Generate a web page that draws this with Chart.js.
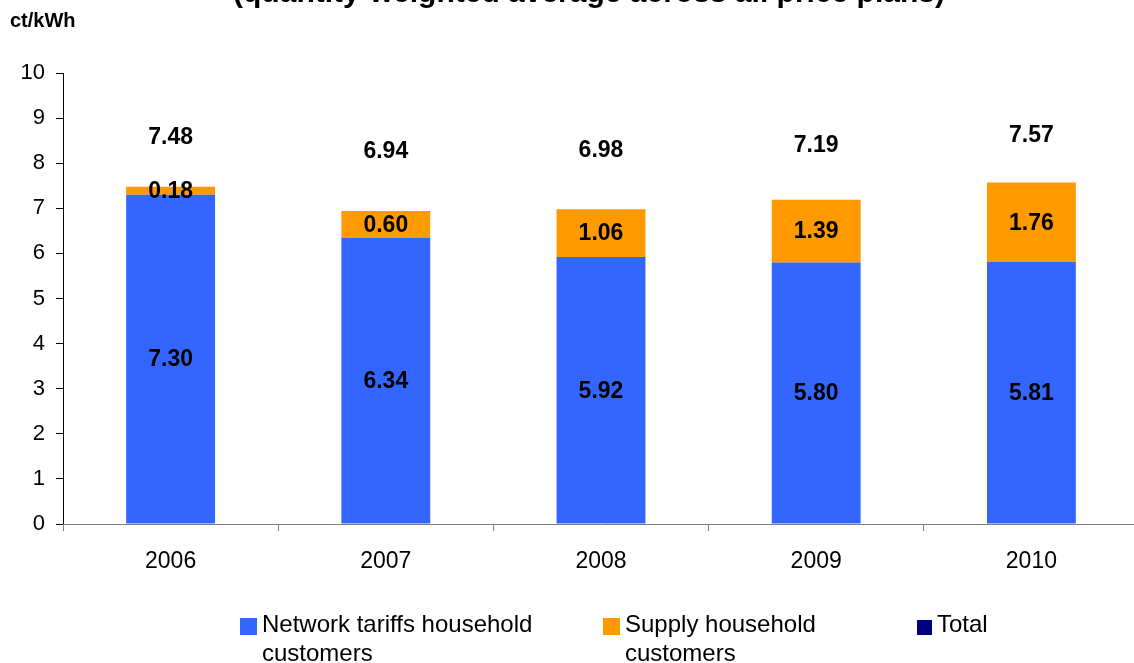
<!DOCTYPE html>
<html>
<head>
<meta charset="utf-8">
<script src="https://cdn.jsdelivr.net/npm/chart.js@4.4.1/dist/chart.umd.min.js"></script>
<style>
  html, body { margin: 0; padding: 0; background: #fff; overflow: hidden; width: 1134px; height: 663px; }
  #wrap { position: absolute; left: 0; top: 0; width: 1150px; height: 663px; }
  #legend { position: absolute; left: 240px; top: 609px; display: flex; font-family: "Liberation Sans", Arial, sans-serif; font-size: 24px; line-height: 29px; color: #000; }
  .item { display: flex; align-items: flex-start; }
  .box { width: 17px; height: 17px; margin-top: 9px; margin-right: 5px; flex: none; }
</style>
</head>
<body>
<div id="wrap"><canvas id="c" width="1150" height="663"></canvas></div>
<div id="legend"></div>
<script>
const categories = ["2006", "2007", "2008", "2009", "2010"];
const networkTariffs = [7.30, 6.34, 5.92, 5.80, 5.81];
const supply = [0.18, 0.60, 1.06, 1.39, 1.76];
const totals = [7.48, 6.94, 6.98, 7.19, 7.57];
const seriesNames = ["Network tariffs household customers", "Supply household customers", "Total"];
const legendLines = [["Network tariffs household", "customers"], ["Supply household", "customers"], ["Total"]];
const colors = ["#3366FF", "#FF9900", "#000080"];
const yTicks = [0, 1, 2, 3, 4, 5, 6, 7, 8, 9, 10];
const titleText = "(quantity-weighted average across all price plans)";
const unitText = "ct/kWh";

const FONT = "'Liberation Sans', Arial, sans-serif";

const labelPlugin = {
  id: 'valueLabels',
  afterDatasetsDraw(chart) {
    const ctx = chart.ctx;
    ctx.save();
    ctx.font = "bold 23px " + FONT;
    ctx.fillStyle = "#000";
    ctx.textAlign = "center";
    ctx.textBaseline = "middle";
    chart.data.datasets.forEach((ds, di) => {
      const meta = chart.getDatasetMeta(di);
      meta.data.forEach((el, i) => {
        const v = ds.data[i];
        let y;
        if (meta.type === 'bar') {
          y = (el.y + el.base) / 2;
        } else {
          y = el.y;
        }
        ctx.fillText(v.toFixed(2), el.x, y + 1);
      });
    });
    ctx.restore();
  },
  afterDraw(chart) {
    const ctx = chart.ctx;
    ctx.save();
    ctx.fillStyle = "#000";
    ctx.font = "bold 30px " + FONT;
    ctx.textAlign = "center";
    ctx.textBaseline = "alphabetic";
    ctx.fillText(titleText, 589, 2);
    ctx.font = "bold 20px " + FONT;
    ctx.textAlign = "left";
    ctx.fillText(unitText, 10, 27);
    ctx.restore();
  }
};

const chart = new Chart(document.getElementById('c'), {
  data: {
    labels: categories,
    datasets: [
      { type: 'bar', label: seriesNames[0], data: networkTariffs, backgroundColor: colors[0], yAxisID: 'y', barPercentage: 0.413, categoryPercentage: 1.0, order: 2 },
      { type: 'bar', label: seriesNames[1], data: supply, backgroundColor: colors[1], yAxisID: 'y', barPercentage: 0.413, categoryPercentage: 1.0, order: 2 },
      { type: 'line', label: seriesNames[2], data: totals, borderColor: colors[2], backgroundColor: colors[2], showLine: false, pointRadius: 0, pointHoverRadius: 0, yAxisID: 'y2', order: 1 }
    ]
  },
  options: {
    responsive: false,
    animation: false,
    devicePixelRatio: 1,
    layout: { padding: { top: 73, right: 11, bottom: 89, left: 0 } },
    plugins: { legend: { display: false }, tooltip: { enabled: false }, title: { display: false } },
    scales: {
      x: {
        stacked: true,
        offset: true,
        border: { display: true, color: '#808080', width: 1, z: 1 },
        grid: { display: true, offset: true, drawOnChartArea: false, drawTicks: true, tickLength: 7, color: '#808080' },
        ticks: { color: '#000', font: { family: FONT, size: 23 }, padding: 17, maxRotation: 0 },
        afterFit(s) { s.height = 50; }
      },
      y: {
        stacked: true,
        min: 0, max: 10,
        border: { display: true, color: '#000', width: 1 },
        grid: { display: true, drawOnChartArea: false, drawTicks: true, tickLength: 7, color: '#000' },
        afterBuildTicks(s) { s.ticks = yTicks.map(v => ({ value: v })); },
        ticks: { color: '#000', font: { family: FONT, size: 22 }, padding: 11 },
        afterFit(s) { s.width = 63; }
      },
      y2: {
        display: false,
        min: -7.62, max: 9.97
      }
    }
  },
  plugins: [labelPlugin]
});

// HTML legend built from the datasets
const legend = document.getElementById('legend');
const widths = [363, 314, 200];
chart.data.datasets.forEach((ds, i) => {
  const item = document.createElement('div');
  item.className = 'item';
  item.style.width = widths[i] + 'px';
  const box = document.createElement('div');
  box.className = 'box';
  box.style.background = ds.backgroundColor;
  if (i === 2) { box.style.width = '15px'; box.style.height = '15px'; box.style.marginTop = '11px'; }
  const txt = document.createElement('div');
  txt.innerHTML = legendLines[i].join('<br>');
  item.appendChild(box);
  item.appendChild(txt);
  legend.appendChild(item);
});
</script>
</body>
</html>
